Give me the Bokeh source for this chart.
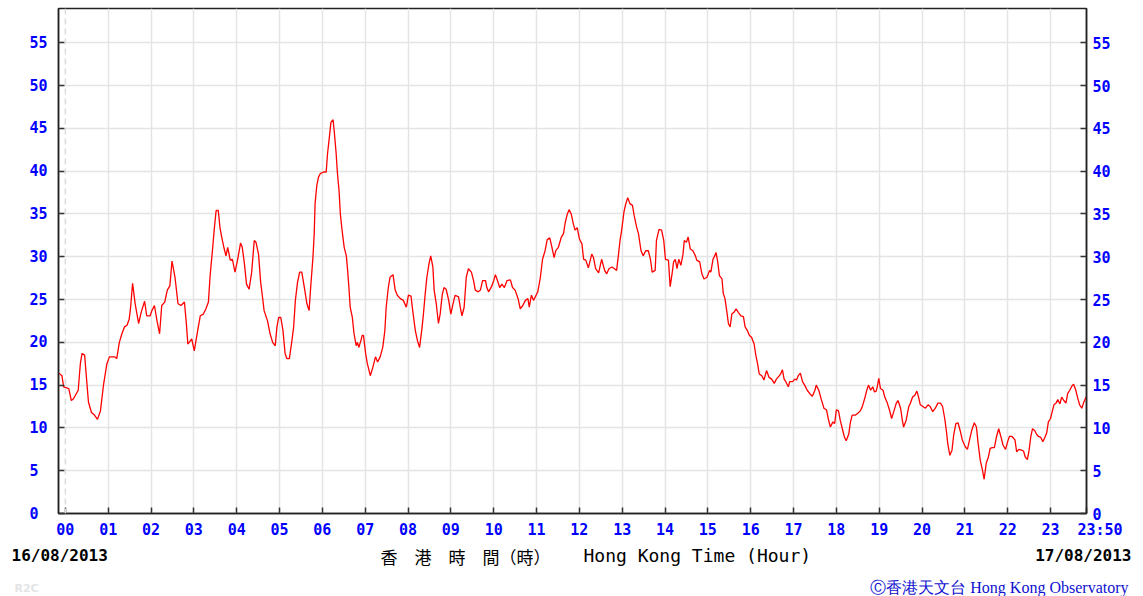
from bokeh.plotting import figure
from bokeh.models import (Range1d, LinearAxis, FixedTicker, Span,
                          ColumnDataSource, Grid)
from bokeh.layouts import column
from bokeh.core.properties import value
from bokeh.embed import file_html
from bokeh.resources import INLINE

# ---- data: 10-min wind speed (km/h), Hong Kong time in hours ----
hA = [-0.15,-0.08,-0.04,0.08,0.14,0.19,0.30,0.35,0.39,0.45,0.51,0.54,0.61,0.68,0.75,0.82,0.89,0.97,1.03,1.15,
      1.20,1.26,1.32,1.38,1.44,1.49,1.52,1.57,1.63,1.71,1.77,1.85,1.90,1.98,2.02,2.08,2.14,2.20,2.25,2.32,
      2.38,2.44,2.49,2.56,2.63,2.70,2.78,2.82,2.86,2.95,3.01,3.09,3.15,3.22,3.28,3.34,3.38,3.43,3.48,3.52,
      3.57,3.61,3.65,3.71,3.75,3.79,3.85,3.90,3.96,4.02,4.09,4.13,4.18,4.23,4.29,4.35,4.41,4.45,4.51]
vA = [16.4,16.1,14.8,14.6,13.2,13.4,14.4,17.5,18.7,18.5,14.8,13.0,11.8,11.5,11.0,12.0,15.0,17.5,18.3,18.3,
      18.1,20.0,21.0,21.8,22.0,22.7,23.9,26.9,24.5,22.2,23.5,24.8,23.1,23.1,23.7,24.3,22.5,21.0,24.3,24.7,
      26.1,26.6,29.5,27.6,24.5,24.3,24.7,22.5,19.8,20.4,19.0,21.4,23.1,23.3,23.9,24.7,27.8,30.5,33.4,35.4,
      35.4,33.4,32.3,30.9,30.1,31.1,29.6,29.7,28.2,29.6,31.6,31.1,29.2,26.8,26.2,28.2,31.9,31.7,30.3]

hB = [4.56,4.61,4.64,4.72,4.78,4.84,4.90,4.94,4.98,5.03,5.08,5.13,5.17,5.23,5.29,5.33,5.37,5.42,5.47,5.52,
      5.58,5.64,5.69,5.73,5.78,5.81,5.83,5.87,5.91,5.95,6.03,6.09,6.12,6.16,6.20,6.25,6.28,6.32,6.35,6.39,
      6.42,6.46,6.51,6.56,6.59,6.62,6.65,6.70,6.74,6.79,6.82,6.85,6.90,6.93,6.96,7.01,7.05,7.12,7.18,7.24,
      7.29,7.35,7.41,7.46,7.49,7.54,7.58,7.65,7.70,7.75,7.82,7.89,7.96,8.01,8.07,8.11,8.17,8.22,8.27,8.32,
      8.36,8.40,8.44,8.49,8.53,8.58,8.61,8.66,8.71,8.75,8.80,8.84,8.89,8.95,9.00,9.05,9.10,9.18,9.22,9.26,9.31]
vB = [27.0,25.0,23.7,22.5,21.0,20.0,19.6,21.8,22.9,22.9,21.4,18.7,18.1,18.1,20.2,21.8,24.9,27.0,28.2,28.2,
      26.4,24.5,23.7,26.6,29.9,32.7,36.2,38.3,39.3,39.7,39.9,39.9,42.0,43.8,45.7,46.0,44.5,42.2,39.9,37.7,
      35.0,33.1,31.1,30.1,28.4,26.4,24.1,22.9,21.0,19.6,20.0,19.4,20.2,20.8,20.8,18.7,17.5,16.1,17.1,18.3,
      17.7,18.3,19.4,21.4,24.1,26.4,27.6,27.9,26.1,25.5,25.1,24.9,24.1,25.5,25.4,23.7,21.4,20.2,19.4,21.4,
      23.3,25.6,27.6,29.2,30.1,28.8,26.1,24.5,22.2,23.3,25.6,26.4,26.2,24.9,23.3,24.5,25.5,25.3,24.1,23.1,24.1]

hC = [9.36,9.41,9.48,9.53,9.57,9.64,9.69,9.74,9.81,9.84,9.88,9.95,10.00,10.04,10.09,10.14,10.19,10.25,10.31,10.39,
      10.44,10.50,10.57,10.62,10.68,10.74,10.80,10.83,10.88,10.93,10.99,11.03,11.09,11.14,11.20,11.25,11.31,11.36,11.41,11.45,
      11.51,11.58,11.63,11.67,11.72,11.76,11.81,11.86,11.90,11.95,12.00,12.06,12.10,12.15,12.21,12.29,12.33,12.38,12.45,12.52,
      12.59,12.64,12.69,12.76,12.82,12.87,12.91,12.95,12.99,13.04,13.08,13.13,13.18,13.24,13.28,13.34,13.38,13.44,13.49,13.55,
      13.61,13.66,13.70,13.77,13.80,13.86,13.92,13.97,14.01,14.08]
vC = [27.6,28.6,28.2,27.2,26.1,25.9,26.1,27.2,27.2,26.4,25.9,26.5,27.2,27.9,27.2,26.4,26.8,26.4,27.2,27.3,
      26.4,26.1,25.1,23.9,24.3,24.9,25.1,24.1,25.5,24.9,25.5,25.9,27.6,29.7,30.7,32.0,32.2,31.1,29.9,30.7,
      31.1,32.3,32.7,34.0,35.0,35.5,35.0,33.8,33.1,33.4,32.1,31.5,29.7,29.6,28.7,30.3,29.9,28.6,28.1,29.7,
      28.4,28.0,28.6,28.8,28.6,28.4,30.1,31.9,33.2,35.2,36.1,36.9,36.2,36.0,34.8,33.4,32.7,30.7,30.1,30.7,
      30.7,29.7,28.2,28.4,31.9,33.2,33.1,31.9,29.7,29.6]

hD = [14.12,14.17,14.20,14.24,14.28,14.32,14.37,14.42,14.45,14.50,14.54,14.59,14.65,14.71,14.74,14.81,14.86,14.91,14.98,15.04,
      15.07,15.12,15.16,15.19,15.23,15.27,15.33,15.36,15.40,15.44,15.48,15.52,15.56,15.61,15.66,15.71,15.77,15.83,15.87,15.92,
      15.97,16.02,16.08,16.12,16.16,16.20,16.26,16.31,16.37,16.43,16.49,16.55,16.60,16.67,16.70,16.74,16.78,16.82,16.88,16.91,
      16.98,17.03,17.07,17.11,17.16,17.21,17.26,17.32,17.38,17.44,17.50,17.53,17.59,17.65,17.71,17.77,17.81,17.86,17.92,17.96,
      18.00,18.05,18.09,18.14,18.19,18.23,18.29,18.33,18.37,18.45,18.50,18.56,18.60,18.66,18.71,18.75,18.80,18.85,18.89]
vD = [26.5,28.2,29.4,29.7,28.6,29.7,29.0,30.3,31.9,31.7,32.3,30.9,30.7,30.1,29.6,29.4,28.0,27.4,27.6,28.4,
      28.2,29.7,30.1,30.5,29.4,27.8,27.4,25.7,25.1,23.7,22.2,21.8,23.3,23.5,23.9,23.5,23.1,23.0,21.8,21.4,
      20.8,20.6,19.8,18.5,17.5,16.3,16.1,15.6,16.7,15.9,15.7,15.2,15.7,16.1,16.3,16.8,15.7,15.4,14.8,15.4,
      15.4,15.7,15.6,16.1,16.4,15.4,15.0,14.4,14.0,13.7,14.4,15.0,14.4,13.3,12.3,12.1,11.1,10.1,10.7,10.5,
      12.1,12.0,10.9,9.9,8.9,8.5,9.3,10.7,11.5,11.5,11.7,12.0,12.4,13.4,14.4,15.0,14.4,14.8,14.2]

hE = [18.93,18.96,18.99,19.03,19.09,19.13,19.19,19.24,19.29,19.34,19.40,19.44,19.50,19.54,19.57,19.63,19.69,19.73,19.78,19.83,
      19.88,19.92,19.96,20.02,20.08,20.14,20.19,20.25,20.31,20.37,20.43,20.48,20.53,20.57,20.60,20.65,20.70,20.74,20.79,20.84,
      20.89,20.94,21.01,21.06,21.11,21.16,21.22,21.27,21.31,21.36,21.41,21.45,21.50,21.55,21.59,21.64,21.69,21.74,21.79,21.84,
      21.89,21.95,22.00,22.04,22.10,22.17,22.21,22.26,22.32,22.37,22.41,22.46,22.50,22.54,22.58,22.63,22.68,22.72,22.77,22.82,
      22.86,22.91,22.95,23.00,23.03,23.08,23.13,23.17,23.22,23.26,23.31,23.36,23.40,23.45,23.50,23.54,23.59,23.64,23.68,23.73,
      23.77,23.83]
vE = [14.3,14.9,15.8,14.6,14.4,13.6,12.9,12.1,11.1,11.9,12.9,13.2,12.3,10.9,10.1,10.9,12.5,12.9,13.6,13.8,
      14.3,13.6,12.7,12.5,12.3,12.7,12.5,11.9,12.3,12.9,12.9,12.5,11.1,9.6,8.2,6.8,7.4,9.2,10.5,10.6,
      9.7,8.6,7.8,7.5,8.6,9.7,10.6,10.1,8.2,6.2,5.1,4.0,5.9,6.6,7.6,7.7,7.7,9.0,9.9,9.0,
      8.0,7.5,8.4,9.0,9.0,8.6,7.2,7.5,7.4,7.3,6.6,6.3,7.4,9.0,9.9,9.7,9.2,9.0,8.9,8.4,
      8.8,9.4,10.7,11.1,11.7,12.7,12.9,13.3,12.8,13.6,13.2,12.9,14.0,14.4,14.9,15.1,14.4,13.4,12.7,12.3,
      12.9,13.6]

hour_ticks = list(range(24)) + [23.84]
hour_labels = ["%02d" % i for i in range(24)] + ["\u2007\u2007\u200723:50"]
y_ticks = list(range(0, 60, 5))
date_start = "16/08/2013"
date_end = "17/08/2013"
title_zh = "香\u3000港\u3000時\u3000間（時）"
title_en = "Hong Kong Time (Hour)"
credit = "\u24b8香港天文台 Hong Kong Observatory"
code = "R2C"

for h, v in ((hA, vA), (hB, vB), (hC, vC), (hD, vD), (hE, vE)):
    assert len(h) == len(v), (len(h), len(v))

hours = hA + hB + hC + hD + hE
speed = vA + vB + vC + vD + vE
src = ColumnDataSource(dict(h=hours, v=speed))

BLUE = "#0000ff"
MONO = "DejaVu Sans Mono"

# ---------------- main chart ----------------
p = figure(width=1143, height=541, output_backend="svg", toolbar_location=None,
           x_range=Range1d(-0.16, 23.84), y_range=Range1d(0, 59.0),
           x_axis_type=None, y_axis_type=None,
           min_border_left=58, min_border_right=57, min_border_top=8, min_border_bottom=28)
p.background_fill_color = "white"
p.border_fill_color = "white"
p.outline_line_color = "#222222"
p.outline_line_width = 1.5

p.add_layout(Grid(dimension=0, ticker=FixedTicker(ticks=list(range(1, 24))),
                  grid_line_color="#e4e4e4", grid_line_width=1.5))
p.add_layout(Grid(dimension=1, ticker=FixedTicker(ticks=y_ticks[1:]),
                  grid_line_color="#e4e4e4", grid_line_width=1.5))
p.add_layout(Span(location=0, dimension="height", line_color="#dcdcdc",
                  line_dash="6 4", line_width=1.5))

def style_axis(ax):
    ax.major_tick_in = 6
    ax.major_tick_out = 0
    ax.minor_tick_line_color = None
    ax.major_tick_line_color = "#333333"
    ax.major_tick_line_width = 1.5
    ax.axis_line_color = "#222222"
    ax.axis_line_width = 1.5
    ax.major_label_text_color = BLUE
    ax.major_label_text_font = MONO
    ax.major_label_text_font_style = "bold"
    ax.major_label_text_font_size = "15px"

xb = LinearAxis(ticker=FixedTicker(ticks=hour_ticks),
                major_label_overrides={t: lab for t, lab in zip(hour_ticks, hour_labels)})
style_axis(xb)
xb.major_label_standoff = 7
p.add_layout(xb, "below")

# single-digit labels on the left sit in the first digit column (left aligned look)
yl = LinearAxis(ticker=FixedTicker(ticks=y_ticks),
                major_label_overrides={t: ("%d\u2007" % t if t < 10 else "%d" % t) for t in y_ticks})
style_axis(yl)
yl.major_label_standoff = 11
p.add_layout(yl, "left")

yr = LinearAxis(ticker=FixedTicker(ticks=y_ticks))
style_axis(yr)
yr.major_label_standoff = 6
p.add_layout(yr, "right")

p.line(x="h", y="v", source=src, line_color="#ff0000", line_width=1.3)

# ---------------- caption strip (page pixel coordinates) ----------------
c = figure(width=1143, height=55, output_backend="svg", toolbar_location=None,
           x_range=Range1d(0, 1143), y_range=Range1d(596, 541),
           x_axis_type=None, y_axis_type=None,
           min_border_left=0, min_border_right=0, min_border_top=0, min_border_bottom=0)
c.outline_line_color = None
c.background_fill_color = "white"
c.border_fill_color = "white"
c.grid.visible = False

# do not align the caption strip's frame with the chart's frame
try:
    p.frame_align = False
    c.frame_align = False
except AttributeError:
    pass

c.text(x=[11], y=[555], text=[date_start], text_font=value(MONO), text_font_style="bold",
       text_font_size="16px", text_color="black", text_align="left", text_baseline="middle")
c.text(x=[1131], y=[555], text=[date_end], text_font=value(MONO), text_font_style="bold",
       text_font_size="16px", text_color="black", text_align="right", text_baseline="middle")
c.text(x=[380], y=[556], text=[title_zh], text_font=value("Noto Sans CJK TC"),
       text_font_size="17px", text_color="black", text_align="left", text_baseline="middle")
c.text(x=[583], y=[555], text=[title_en], text_font=value(MONO),
       text_font_size="18px", text_color="black", text_align="left", text_baseline="middle")
c.text(x=[1128], y=[587], text=[credit], text_font=value("Liberation Serif"),
       text_font_size="16px", text_color="#1010d0", text_align="right", text_baseline="alphabetic")
c.text(x=[14], y=[588], text=[code], text_font=value("DejaVu Sans"), text_font_style="bold",
       text_font_size="11px", text_color="#e4e4e4", text_align="left", text_baseline="middle")

layout = column(p, c, spacing=0)
open("out.html", "w").write(file_html(layout, INLINE))
